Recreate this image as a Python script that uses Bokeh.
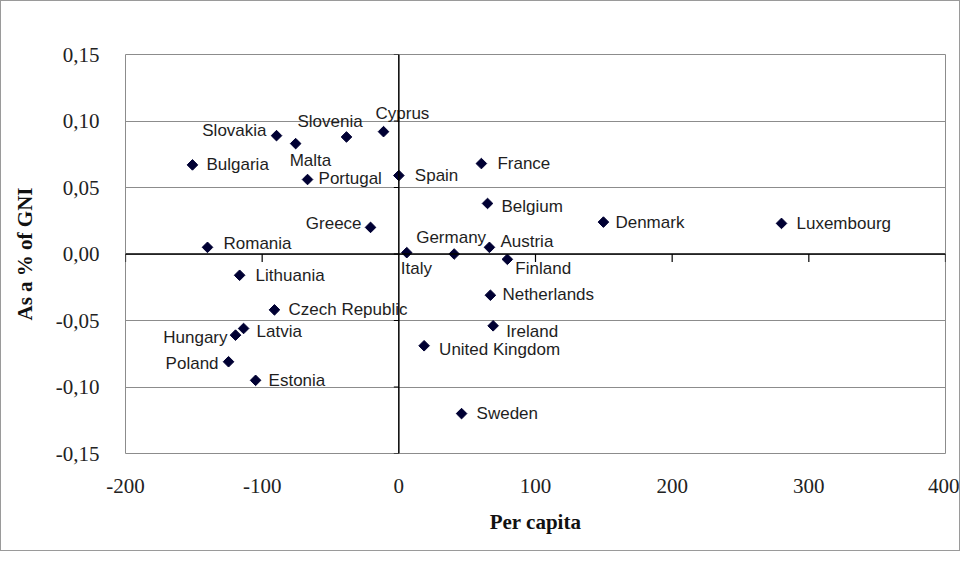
from math import pi
from bokeh.plotting import figure
from bokeh.models import (ColumnDataSource, Range1d, FixedTicker, Span,
                          CustomJSTickFormatter)
from bokeh.core.properties import value
from bokeh.embed import file_html
from bokeh.resources import INLINE

# ---- data ----
countries = ["Slovakia", "Malta", "Slovenia", "Cyprus", "Bulgaria", "Portugal",
             "Spain", "France", "Belgium", "Denmark", "Luxembourg", "Greece",
             "Romania", "Germany", "Italy", "Austria", "Finland", "Lithuania",
             "Netherlands", "Czech Republic", "Ireland", "Latvia", "Hungary",
             "Poland", "United Kingdom", "Estonia", "Sweden"]
per_capita = [-89.5, -75.5, -38.3, -11.2, -151.0, -66.8,
              0.0, 60.4, 64.9, 149.7, 280.0, -20.7,
              -140.0, 40.5, 5.8, 66.3, 79.4, -116.5,
              67.0, -91.0, 69.0, -113.6, -119.5,
              -124.6, 18.5, -104.8, 45.9]
pct_gni = [0.089, 0.083, 0.088, 0.092, 0.067, 0.056,
           0.059, 0.068, 0.038, 0.024, 0.023, 0.020,
           0.005, 0.000, 0.001, 0.005, -0.004, -0.016,
           -0.031, -0.042, -0.054, -0.056, -0.061,
           -0.081, -0.069, -0.095, -0.120]

x_ticks = [-200, -100, 0, 100, 200, 300, 400]
x_tick_labels = ["-200", "-100", "0", "100", "200", "300", "400"]
y_ticks = [-0.15, -0.10, -0.05, 0.0, 0.05, 0.10, 0.15]
y_tick_labels = ["-0,15", "-0,10", "-0,05", "0,00", "0,05", "0,10", "0,15"]

# ---- label placement (screen-pixel styling) ----
label_align = ["right", "left", "left", "left", "left", "left",
               "left", "left", "left", "left", "left", "right",
               "left", "left", "left", "left", "left", "left",
               "left", "left", "left", "left", "right",
               "right", "left", "left", "left"]
label_dx = [-10, -6, -49, -8, 14, 11,
            16, 16, 14, 12, 15, -9,
            16, -38, -6, 11, 8, 16,
            12, 14, 13, 13, -8,
            -10, 15, 13, 15]
label_dy = [-5, 17, -15, -18, 0, -1,
            0, 0, 3, 0, 0, -4,
            -4, -17, 16, -6, 9, 0,
            -1, 0, 6, 3, 2,
            2, 4, 0, 0]

src = ColumnDataSource(dict(x=per_capita, y=pct_gni, name=countries,
                            align=label_align, dx=label_dx, dy=label_dy))

p = figure(width=960, height=551,
           x_range=Range1d(-200, 400), y_range=Range1d(-0.15, 0.15),
           output_backend="svg", toolbar_location=None,
           min_border_left=124, min_border_right=16,
           min_border_top=53, min_border_bottom=99)
p.styles = {"border": "1px solid #9a9a9a"}

grey = "#8c8c8c"
p.outline_line_color = grey
p.background_fill_color = "white"
p.border_fill_color = "white"

# axes (labels only, at frame edges)
p.xaxis.ticker = FixedTicker(ticks=x_ticks)
p.yaxis.ticker = FixedTicker(ticks=y_ticks)
p.xaxis.formatter = CustomJSTickFormatter(
    args=dict(vals=x_ticks, labs=x_tick_labels),
    code="let b=0; for (let i=0;i<vals.length;i++){ if (Math.abs(vals[i]-tick)<Math.abs(vals[b]-tick)) b=i; } return labs[b];")
p.yaxis.formatter = CustomJSTickFormatter(
    args=dict(vals=y_ticks, labs=y_tick_labels),
    code="let b=0; for (let i=0;i<vals.length;i++){ if (Math.abs(vals[i]-tick)<Math.abs(vals[b]-tick)) b=i; } return labs[b];")
for ax in (p.xaxis, p.yaxis):
    ax.axis_line_color = None
    ax.major_tick_line_color = None
    ax.minor_tick_line_color = None
    ax.major_label_text_font = "Liberation Serif"
    ax.major_label_text_font_size = "21px"
    ax.major_label_text_color = "#222222"
    ax.axis_label_text_font = "Liberation Serif"
    ax.axis_label_text_font_style = "bold"
    ax.axis_label_text_font_size = "21px"
    ax.axis_label_text_color = "#111111"
p.xaxis.major_label_standoff = 19
p.yaxis.major_label_standoff = 20
p.xaxis.axis_label = "Per capita"
p.yaxis.axis_label = "As a % of GNI"
p.xaxis.axis_label_standoff = 14
p.yaxis.axis_label_standoff = 16

# grid
p.xgrid.visible = False
p.ygrid.ticker = FixedTicker(ticks=y_ticks)
p.ygrid.grid_line_color = grey
p.ygrid.grid_line_width = 1

# central axes
p.add_layout(Span(location=0, dimension="height", line_color="black", line_width=1.5))
p.add_layout(Span(location=0, dimension="width", line_color="black", line_width=1.5))
p.ray(x=[t for t in x_ticks if t != 0], y=0, length=8, length_units="screen",
      angle=-pi / 2, line_color="black", line_width=1.2)
p.ray(x=0, y=y_ticks, length=5, length_units="screen",
      angle=pi, line_color="black", line_width=1.2)

# points and labels
p.scatter("x", "y", source=src, marker="square", angle=pi / 4, size=7.5,
          fill_color="#000033", line_color="#000033")
p.text("x", "y", text="name", source=src, x_offset="dx", y_offset="dy",
       text_align="align", text_baseline="middle",
       text_font=value("Liberation Sans"), text_font_size="17px",
       text_color="#1e1e1e")

open("out.html", "w").write(file_html(p, INLINE))
